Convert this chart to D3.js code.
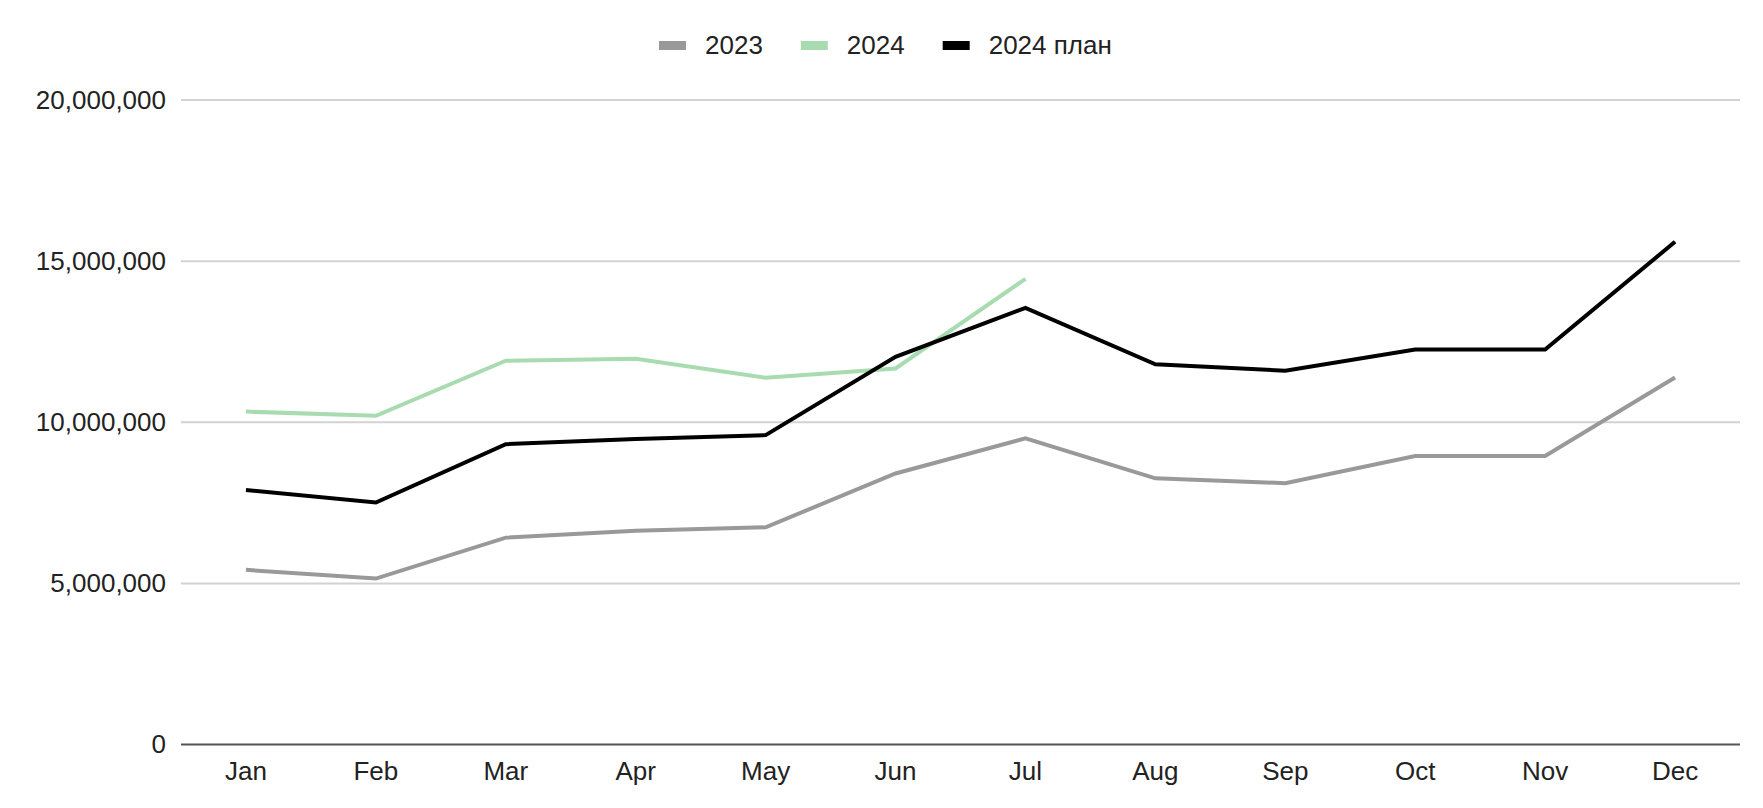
<!DOCTYPE html>
<html><head><meta charset="utf-8">
<script src="https://cdn.jsdelivr.net/npm/d3@7"></script>
<style>body{margin:0;background:#fff}svg{display:block}text{font-family:"Liberation Sans",Arial,sans-serif}</style>
</head><body>
<svg id="c" width="1763" height="808"></svg>
<script>
const months = ["Jan","Feb","Mar","Apr","May","Jun","Jul","Aug","Sep","Oct","Nov","Dec"];
const seriesNames = ["2023","2024","2024 план"];
const values2023 = [5420000,5150000,6420000,6630000,6740000,8410000,9500000,8260000,8110000,8950000,8950000,11390000];
const values2024 = [10330000,10200000,11910000,11970000,11380000,11670000,14450000];
const valuesPlan = [7900000,7510000,9320000,9480000,9600000,12030000,13550000,11800000,11600000,12260000,12260000,15600000];
const yTicks = [0,5000000,10000000,15000000,20000000];
const colors = ["#999999","#a8dcb0","#000000"];

const svg = d3.select("#c");
const L = 181, R = 1740, T = 100, B = 744.5;
const x = d3.scaleBand().domain(months).range([L,R]).padding(0);
const y = d3.scaleLinear().domain([0,20000000]).range([B,T]);
const fmt = d3.format(",");

// gridlines
svg.append("g").selectAll("line").data(yTicks.filter(d=>d>0)).join("line")
  .attr("x1",L).attr("x2",R).attr("y1",d=>y(d)).attr("y2",d=>y(d))
  .attr("stroke","#d2d2d2").attr("stroke-width",2);

// y labels
const yAxis = d3.axisLeft(y).tickValues(yTicks).tickFormat(fmt).tickSize(0).tickPadding(15);
const ga = svg.append("g").attr("transform",`translate(${L},0)`).call(yAxis);
ga.select(".domain").remove();
ga.selectAll("text").attr("font-size",26).attr("fill","#222").attr("font-family","Liberation Sans, Arial, sans-serif");

// x labels
const xAxis = d3.axisBottom(x).tickSize(0).tickPadding(17);
const gx = svg.append("g").attr("transform",`translate(0,${B})`).call(xAxis);
gx.select(".domain").remove();
gx.selectAll("text").attr("font-size",26).attr("fill","#222").attr("font-family","Liberation Sans, Arial, sans-serif");

// baseline
svg.append("line").attr("x1",L).attr("x2",R).attr("y1",y(0)).attr("y2",y(0))
  .attr("stroke","#555").attr("stroke-width",2);

const line = d3.line().x((d,i)=>x(months[i])+x.bandwidth()/2).y(d=>y(d));
[values2023, values2024, valuesPlan].forEach((vals,k)=>{
  svg.append("path").datum(vals).attr("d",line).attr("fill","none")
    .attr("stroke",colors[k]).attr("stroke-width",4).attr("stroke-linejoin","miter");
});

// legend
const lg = svg.append("g");
let cx = 659;
seriesNames.forEach((n,k)=>{
  lg.append("rect").attr("x",cx).attr("y",41).attr("width",27).attr("height",9).attr("fill",colors[k]);
  const t = lg.append("text").attr("x",cx+46).attr("y",45).attr("dy","0.35em")
    .attr("font-size",26).attr("fill","#222").text(n);
  cx = cx + 46 + t.node().getComputedTextLength() + 38;
});
</script>
</body></html>
